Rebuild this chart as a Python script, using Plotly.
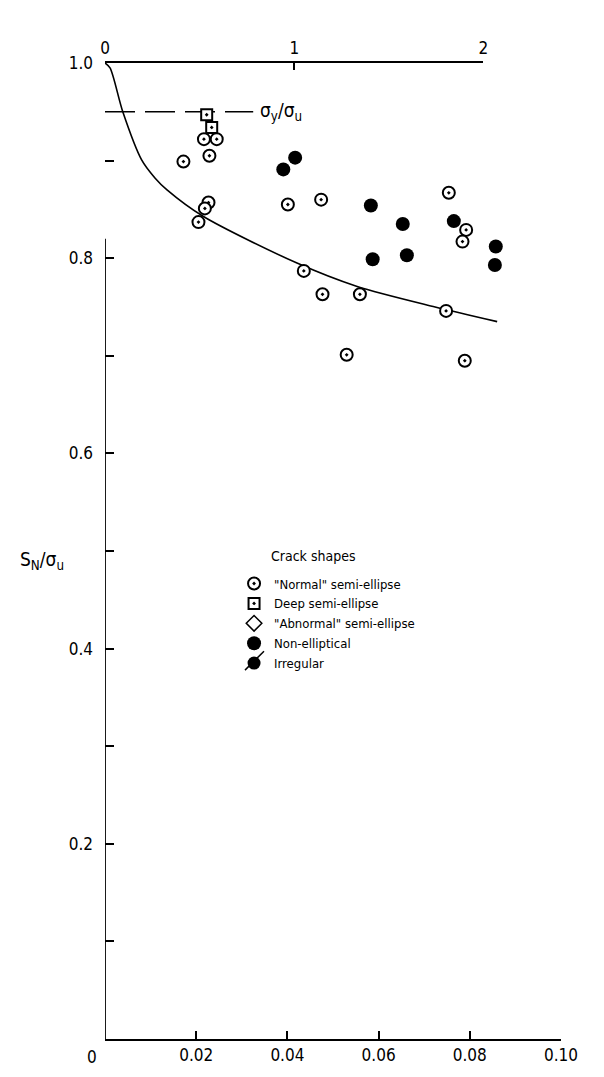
import plotly.graph_objects as go

# Crack depth ratio (bottom axis) and net-section strength ratio S_N / sigma_u
normal_x = [0.0217, 0.0245, 0.0172, 0.0229, 0.0227, 0.0219, 0.0205, 0.0401, 0.0474,
            0.0436, 0.0477, 0.0559, 0.0748, 0.0530, 0.0789, 0.0754, 0.0792, 0.0784]
normal_y = [0.922, 0.922, 0.899, 0.905, 0.857, 0.851, 0.837, 0.855, 0.860,
            0.787, 0.763, 0.763, 0.746, 0.701, 0.695, 0.867, 0.829, 0.817]

deep_x = [0.0223, 0.0234]
deep_y = [0.947, 0.934]

nonell_x = [0.0417, 0.0391, 0.0583, 0.0653, 0.0765, 0.0587, 0.0662, 0.0857, 0.0855]
nonell_y = [0.903, 0.891, 0.854, 0.835, 0.838, 0.799, 0.803, 0.812, 0.793]

# Faired trend curve through the data
curve_x = [0.0, 0.0011, 0.0039, 0.0080, 0.0110, 0.0136, 0.0215, 0.0421, 0.0553, 0.0724, 0.0860]
curve_y = [1.0, 0.995, 0.950, 0.901, 0.882, 0.870, 0.843, 0.795, 0.771, 0.750, 0.735]

# Yield-to-ultimate ratio line
yield_ratio = 0.950
yield_x = [0.0, 0.0325]

x_ticks = [0.02, 0.04, 0.06, 0.08, 0.10]
x_labels = ["0.02", "0.04", "0.06", "0.08", "0.10"]
y_ticks = [0.1, 0.2, 0.3, 0.4, 0.5, 0.6, 0.7, 0.8, 0.9, 1.0]
y_labels = ["", "0.2", "", "0.4", "", "0.6", "", "0.8", "", "1.0"]
top_ticks = [0, 1, 2]
top_labels = ["0", "1", "2"]

FONT = "DejaVu Sans Condensed, Liberation Sans Narrow, Arial Narrow, sans-serif"

fig = go.Figure()

fig.add_trace(go.Scatter(x=curve_x, y=curve_y, mode="lines",
                         line=dict(color="black", width=1.6, shape="spline", smoothing=0.8),
                         showlegend=False, hoverinfo="skip"))
fig.add_trace(go.Scatter(x=yield_x, y=[yield_ratio] * len(yield_x), mode="lines",
                         line=dict(color="black", width=1.6, dash="30px,10px"),
                         showlegend=False, hoverinfo="skip"))

fig.add_trace(go.Scatter(x=normal_x, y=normal_y, mode="markers", name='"Normal" semi-ellipse',
                         marker=dict(symbol="circle-dot", size=12, color="white",
                                     line=dict(color="black", width=2))))
fig.add_trace(go.Scatter(x=deep_x, y=deep_y, mode="markers", name="Deep semi-ellipse",
                         marker=dict(symbol="square-dot", size=11, color="white",
                                     line=dict(color="black", width=2))))
fig.add_trace(go.Scatter(x=[None], y=[None], mode="markers", name='"Abnormal" semi-ellipse',
                         marker=dict(symbol="diamond", size=12, color="white",
                                     line=dict(color="black", width=1.5))))
fig.add_trace(go.Scatter(x=nonell_x, y=nonell_y, mode="markers", name="Non-elliptical",
                         marker=dict(symbol="circle", size=14, color="black",
                                     line=dict(color="black", width=0))))
fig.add_trace(go.Scatter(x=[None], y=[None], mode="markers", name="Irregular",
                         marker=dict(symbol="circle", size=13, color="black",
                                     line=dict(color="black", width=0))))

# top scale
fig.add_trace(go.Scatter(x=[], y=[], xaxis="x2", showlegend=False))

fig.update_layout(
    width=604, height=1077,
    margin=dict(l=105, r=43, t=63, b=35),
    paper_bgcolor="white", plot_bgcolor="rgba(0,0,0,0)",
    font=dict(family=FONT, size=14, color="black"),
    xaxis=dict(range=[0, 0.10], tickvals=x_ticks, ticktext=x_labels, ticks="inside", ticklen=8,
               tickwidth=1.8, tickcolor="black", showline=True, linecolor="black", linewidth=2,
               showgrid=False, zeroline=False, tickfont=dict(size=17)),
    xaxis2=dict(range=[0, 2], domain=[0, 0.83], anchor="y", side="top", tickvals=top_ticks,
                ticktext=top_labels, ticks="inside", ticklen=7, tickwidth=1.8, tickcolor="black",
                showline=True, linecolor="black", linewidth=2, showgrid=False, zeroline=False,
                tickfont=dict(size=17)),
    yaxis=dict(range=[0, 1.0], tickvals=y_ticks, ticktext=y_labels, ticks="inside", ticklen=9,
               tickwidth=1.8, tickcolor="black", showline=False, showgrid=False, zeroline=False,
               tickfont=dict(size=17), ticklabelstandoff=11),
    legend=dict(x=0.283, y=0.482, xanchor="left", yanchor="top", bgcolor="rgba(0,0,0,0)",
                font=dict(size=13), tracegroupgap=0, itemwidth=30),
    showlegend=True,
)

# left axis line (broken near the top)
fig.add_shape(type="line", xref="x", yref="y", x0=0, x1=0, y0=0, y1=0.82,
              line=dict(color="black", width=1.8))

# slash through the "Irregular" legend symbol
fig.add_shape(type="line", xref="paper", yref="paper",
              x0=(245 - 105) / 456, y0=(1042 - 672) / 979,
              x1=(264 - 105) / 456, y1=(1042 - 653) / 979,
              line=dict(color="black", width=1.5))

fig.add_annotation(x=0, y=0, xref="x", yref="paper", text="0", showarrow=False,
                   yanchor="top", yshift=-6, xshift=-13, font=dict(size=17))
fig.add_annotation(x=0.0335, y=yield_ratio, xref="x", yref="y", xanchor="left",
                   text="σ<sub>y</sub>/σ<sub>u</sub>", showarrow=False, font=dict(size=19))
fig.add_annotation(x=-0.19, y=0.49, xref="paper", yref="paper", xanchor="left",
                   text="S<sub>N</sub>/σ<sub>u</sub>", showarrow=False, font=dict(size=19))
fig.add_annotation(x=0.36, y=0.495, xref="paper", yref="paper", xanchor="left",
                   text="Crack shapes", showarrow=False, font=dict(size=14))

fig.write_html("out.html")
